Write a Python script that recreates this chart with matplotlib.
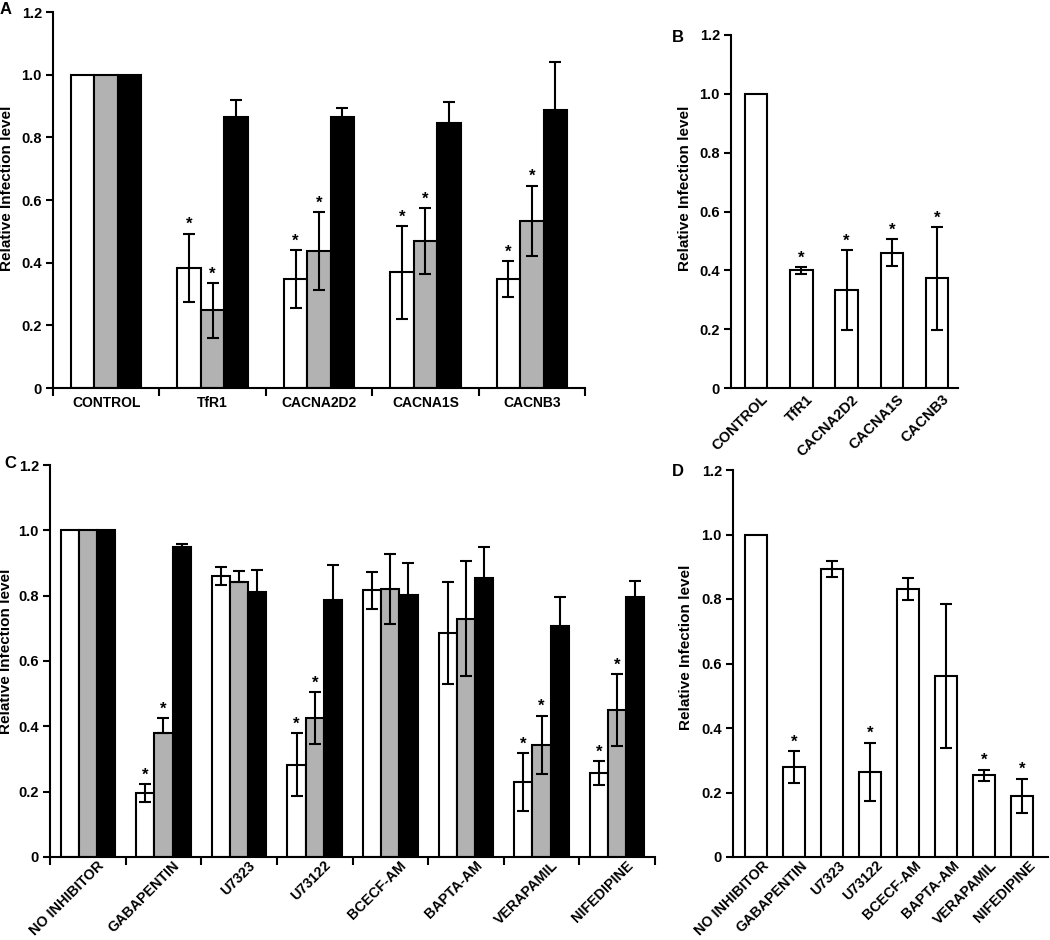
import matplotlib
matplotlib.use("Agg")
import matplotlib.pyplot as plt
import matplotlib.transforms as mtransforms
import numpy as np

plt.rcParams['font.family'] = ['Liberation Sans', 'DejaVu Sans']
plt.rcParams['font.weight'] = 'bold'

# ---------------- Data ----------------
# Panel A
a_cats = ["CONTROL", "TfR1", "CACNA2D2", "CACNA1S", "CACNB3"]
a_white = [1.0, 0.383, 0.348, 0.369, 0.348]
a_white_err = [0.0, 0.11, 0.093, 0.149, 0.057]
a_gray = [1.0, 0.248, 0.438, 0.47, 0.533]
a_gray_err = [0.0, 0.088, 0.124, 0.105, 0.113]
a_black = [1.0, 0.864, 0.864, 0.845, 0.888]
a_black_err = [0.0, 0.056, 0.03, 0.067, 0.151]
a_sig = [False, True, True, True, True]

# Panel B
b_cats = ["CONTROL", "TfR1", "CACNA2D2", "CACNA1S", "CACNB3"]
b_vals = [1.0, 0.40, 0.333, 0.46, 0.373]
b_err = [0.0, 0.011, 0.136, 0.045, 0.175]
b_sig = [False, True, True, True, True]

# Panel C
c_cats = ["NO INHIBITOR", "GABAPENTIN", "U7323", "U73122", "BCECF-AM",
          "BAPTA-AM", "VERAPAMIL", "NIFEDIPINE"]
c_white = [1.0, 0.196, 0.861, 0.283, 0.816, 0.686, 0.229, 0.256]
c_white_err = [0.0, 0.028, 0.027, 0.096, 0.057, 0.155, 0.088, 0.037]
c_gray = [1.0, 0.379, 0.843, 0.426, 0.82, 0.73, 0.343, 0.449]
c_gray_err_hi = [0.0, 0.046, 0.034, 0.08, 0.108, 0.177, 0.09, 0.11]
c_gray_err_lo = [0.0, 0.0, 0.0, 0.08, 0.108, 0.177, 0.09, 0.11]
c_black = [1.0, 0.95, 0.811, 0.786, 0.802, 0.855, 0.708, 0.795]
c_black_err = [0.0, 0.009, 0.067, 0.108, 0.097, 0.093, 0.089, 0.049]
c_sig = [False, True, False, True, False, False, True, True]

# Panel D
d_cats = ["NO INHIBITOR", "GABAPENTIN", "U7323", "U73122", "BCECF-AM",
          "BAPTA-AM", "VERAPAMIL", "NIFEDIPINE"]
d_vals = [1.0, 0.278, 0.892, 0.265, 0.832, 0.56, 0.254, 0.19]
d_err = [0.0, 0.05, 0.025, 0.09, 0.034, 0.223, 0.017, 0.053]
d_sig = [False, True, False, True, False, False, True, True]

yticks = [0, 0.2, 0.4, 0.6, 0.8, 1.0, 1.2]
ytick_labels = ["0", "0.2", "0.4", "0.6", "0.8", "1.0", "1.2"]

GRAY = "#b2b2b2"
LW = 1.5
W, H = 1050, 940

fig = plt.figure(figsize=(W / 100, H / 100), dpi=100)


def ax_px(left, right, top, bottom):
    ax = fig.add_axes([left / W, 1 - bottom / H, (right - left) / W, (bottom - top) / H])
    ax._px = (left, right, top, bottom)
    return ax


def style_axis(ax, label_right_px, label_center_px):
    left, right, top, bottom = ax._px
    ax.spines['top'].set_visible(False)
    ax.spines['right'].set_visible(False)
    ax.spines['left'].set_linewidth(LW)
    ax.spines['bottom'].set_linewidth(LW)
    ax.set_ylim(0, 1.2)
    ax.set_yticks(yticks)
    ax.set_yticklabels(ytick_labels, fontsize=10.5, fontweight='bold')
    ax.tick_params(axis='y', direction='out', length=5, width=LW, pad=3)
    ax.set_ylabel("Relative Infection level", fontsize=11, fontweight='bold')
    ax.yaxis.set_label_coords((label_right_px - left) / (right - left),
                              (bottom - label_center_px) / (bottom - top))


def draw_bar(ax, x, h, w, color, err_lo, err_hi, zorder=2):
    ax.bar(x, h, width=w, color=color, edgecolor='black', linewidth=LW, zorder=zorder)
    if err_lo > 0 or err_hi > 0:
        ax.errorbar(x, h, yerr=[[err_lo], [err_hi]], fmt='none', ecolor='black',
                    elinewidth=LW, capsize=4, capthick=LW, zorder=zorder + 1)


def star(ax, x, y):
    ax.annotate("*", xy=(x, y), xytext=(0, 1), textcoords='offset points',
                ha='center', va='bottom', fontsize=12, fontweight='bold')


def grouped(ax, cats, whites, w_err, grays, g_lo, g_hi, blacks, b_err, sig, bw):
    xs = np.arange(len(cats))
    for i, x in enumerate(xs):
        draw_bar(ax, x - bw, whites[i], bw, 'white', w_err[i], w_err[i])
        draw_bar(ax, x, grays[i], bw, GRAY, g_lo[i], g_hi[i])
        draw_bar(ax, x + bw, blacks[i], bw, 'black', b_err[i], b_err[i])
        if sig[i]:
            star(ax, x - bw, whites[i] + w_err[i])
            star(ax, x, grays[i] + g_hi[i])
    ax.set_xlim(-0.5, len(cats) - 0.5)
    ax.set_xticks(xs)
    ax.set_xticks(np.arange(len(cats) + 1) - 0.5, minor=True)
    ax.tick_params(axis='x', which='major', length=0)
    ax.tick_params(axis='x', which='minor', direction='out', length=6, width=LW)


def shift_labels(ax, dx_px):
    off = mtransforms.ScaledTranslation(dx_px / 100, 0, fig.dpi_scale_trans)
    for lab in ax.get_xticklabels():
        lab.set_transform(lab.get_transform() + off)


# ---------- Panel A ----------
axA = ax_px(53, 585, 12, 388)
style_axis(axA, 14, 188)
grouped(axA, a_cats, a_white, a_white_err, a_gray, a_gray_err, a_gray_err,
        a_black, a_black_err, a_sig, 0.22)
axA.set_xticklabels(a_cats, fontsize=10, fontweight='bold')
axA.tick_params(axis='x', which='major', pad=6)

# ---------- Panel B ----------
axB = ax_px(731, 958, 35, 388)
style_axis(axB, 692, 188)
xb = np.arange(len(b_cats))
for i, x in enumerate(xb):
    draw_bar(axB, x, b_vals[i], 0.5, 'white', b_err[i], b_err[i])
    if b_sig[i]:
        star(axB, x, b_vals[i] + b_err[i])
axB.set_xlim(-0.55, len(b_cats) - 0.54)
axB.set_xticks(xb)
axB.tick_params(axis='x', length=0, pad=3)
axB.set_xticklabels(b_cats, fontsize=10.5, fontweight='bold', rotation=45,
                    ha='right', va='top', rotation_mode='anchor')
shift_labels(axB, 5)

# ---------- Panel C ----------
axC = ax_px(50, 655, 465, 857)
style_axis(axC, 13, 651)
grouped(axC, c_cats, c_white, c_white_err, c_gray, c_gray_err_lo, c_gray_err_hi,
        c_black, c_black_err, c_sig, 0.24)
axC.set_xticklabels(c_cats, fontsize=10.3, fontweight='bold', rotation=45,
                    ha='right', va='top', rotation_mode='anchor')
axC.tick_params(axis='x', which='major', pad=1)
shift_labels(axC, 9)

# ---------- Panel D ----------
axD = ax_px(733, 1048, 470, 857)
style_axis(axD, 693, 647)
xd = np.arange(len(d_cats))
for i, x in enumerate(xd):
    draw_bar(axD, x, d_vals[i], 0.58, 'white', d_err[i], d_err[i])
    if d_sig[i]:
        star(axD, x, d_vals[i] + d_err[i])
axD.set_xlim(-0.6, len(d_cats) - 0.32)
axD.set_xticks(xd)
axD.tick_params(axis='x', length=0, pad=1)
axD.set_xticklabels(d_cats, fontsize=10.3, fontweight='bold', rotation=45,
                    ha='right', va='top', rotation_mode='anchor')
shift_labels(axD, 6)

# Panel letters
for letter, (px, py) in {"A": (6, 10), "B": (678, 37), "C": (10, 463), "D": (678, 471)}.items():
    fig.text(px / W, 1 - py / H, letter, fontsize=12, fontweight='bold',
             ha='center', va='center')

fig.savefig("out.png", dpi=100)
